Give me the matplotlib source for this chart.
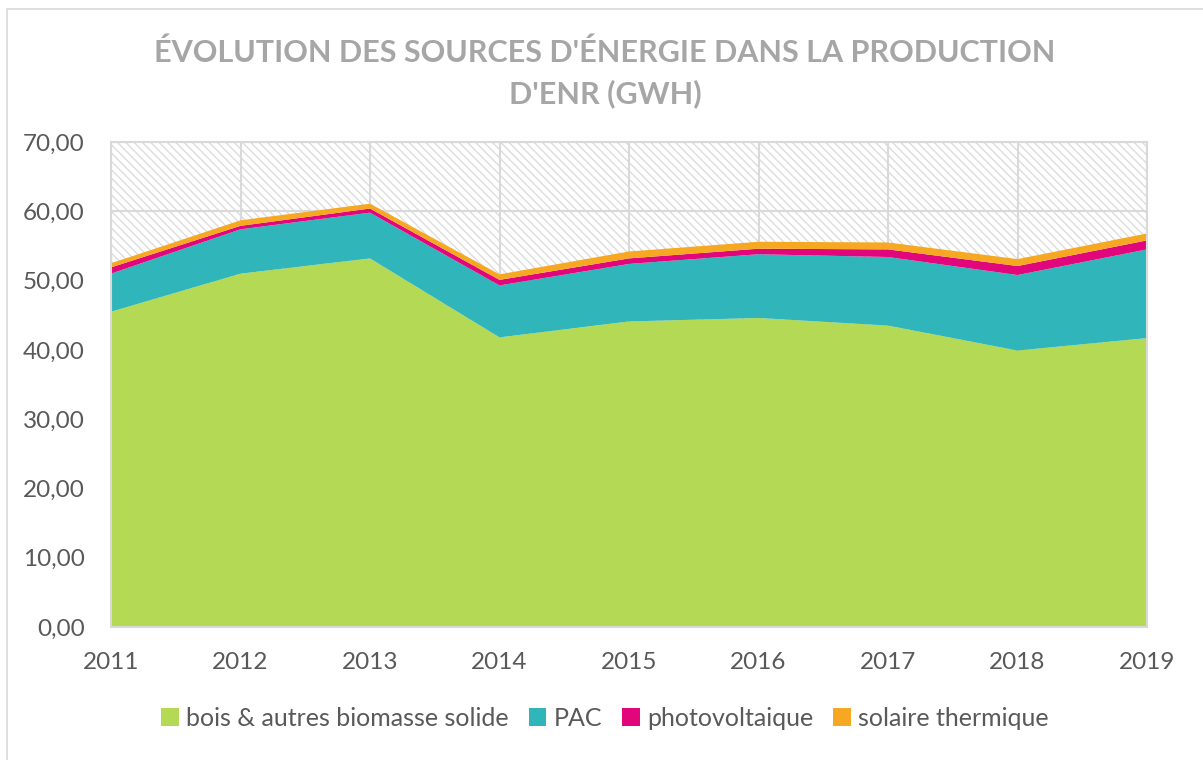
import numpy as np
import matplotlib
matplotlib.use("Agg")
import matplotlib.pyplot as plt
from matplotlib.patches import Rectangle
from matplotlib.ticker import FuncFormatter

annees = [2011, 2012, 2013, 2014, 2015, 2016, 2017, 2018, 2019]
bois = [45.5, 51.0, 53.2, 41.8, 44.1, 44.6, 43.5, 39.9, 41.7]
pac = [5.5, 6.4, 6.6, 7.5, 8.3, 9.2, 9.9, 10.9, 12.8]
photovoltaique = [0.9, 0.5, 0.6, 0.8, 0.8, 0.8, 1.1, 1.3, 1.3]
solaire = [0.6, 0.8, 0.7, 0.8, 1.0, 1.0, 1.0, 1.0, 1.0]

noms = ["bois & autres biomasse solide", "PAC", "photovoltaique", "solaire thermique"]
couleurs = ["#b4d955", "#30b5bb", "#e2067d", "#f7a823"]

plt.rcParams['font.family'] = ['Lato', 'DejaVu Sans']
plt.rcParams['hatch.color'] = '#dcdcdc'
plt.rcParams['hatch.linewidth'] = 1.0

fig = plt.figure(figsize=(12.03, 7.60), dpi=100)
ax = fig.add_axes([111/1203, 1 - 627/760, 1036/1203, 485/760])

# fond hachure de la zone de tracé
ax.fill_between(annees, 0, 70, facecolor='white', edgecolor='#dcdcdc',
                hatch='\\\\\\\\', linewidth=0, zorder=0)
ax.grid(True, color='#d9d9d9', linewidth=1.5, zorder=1)

ax.stackplot(annees, bois, pac, photovoltaique, solaire, colors=couleurs,
             labels=noms, zorder=2, linewidth=0)

ax.set_xlim(2011, 2019)
ax.set_ylim(0, 70)
ax.set_yticks(np.arange(0, 71, 10))
ax.set_xticks(annees)
ax.yaxis.set_major_formatter(FuncFormatter(lambda v, p: f"{v:.2f}".replace('.', ',')))
ax.tick_params(length=0, labelsize=17.5, colors='#595959')
ax.tick_params(axis='y', pad=19)
ax.tick_params(axis='x', pad=18)
for s in ax.spines.values():
    s.set_color('#d9d9d9')
    s.set_linewidth(1.5)

fig.text(605/1203, 1 - 73/760, "ÉVOLUTION DES SOURCES D'ÉNERGIE DANS LA PRODUCTION\nD'ENR (GWH)",
         ha='center', va='center', fontsize=22, fontweight='bold',
         color='#a6a6a6', linespacing=1.5)

leg = ax.legend(loc='center', bbox_to_anchor=(605/1203, 1 - 718/760),
                bbox_transform=fig.transFigure, ncol=4, frameon=False,
                fontsize=18, handlelength=0.7, handleheight=0.7,
                handletextpad=0.3, columnspacing=0.8)
for t in leg.get_texts():
    t.set_color('#595959')

# bordure du graphique
fig.patches.append(Rectangle((7/1203, -0.1), 1.2, 1 - 9/760 + 0.1, transform=fig.transFigure,
                             fill=False, edgecolor='#d9d9d9', linewidth=1.2))

fig.savefig("out.png", dpi=100)
